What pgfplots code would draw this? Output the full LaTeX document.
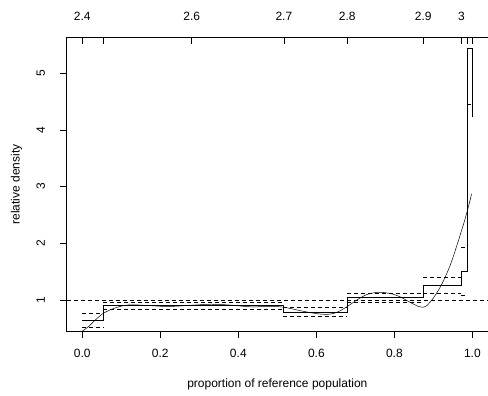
\documentclass[border=0pt]{standalone}
\usepackage{pgfplots}
\pgfplotsset{compat=1.18}
\usepackage{fontspec}
\setmainfont{Liberation Sans}
\begin{document}
\begin{tikzpicture}[x=1pt,y=1pt]
\path[use as bounding box] (0,0) rectangle (488,396);
\tikzset{cidash/.style={black, line width=0.55pt, dash pattern=on 4pt off 3pt}}
\begin{axis}[
  at={(66.7pt,65pt)}, anchor=south west,
  scale only axis, width=421.3pt, height=293.3pt,
  xmin=-0.04, xmax=1.04, ymin=0.453, ymax=5.626,
  axis line style={draw=none},
  clip mode=individual,
  font=\fontsize{12}{14}\selectfont,
  /pgf/number format/assume math mode=true,
  xtick={0,0.2,0.4,0.6,0.8,1.0},
  xticklabels={0.0,0.2,0.4,0.6,0.8,1.0},
  ytick={1,2,3,4,5},
  xtick pos=bottom, ytick pos=left,
  tick align=outside, major tick length=7pt,
  tick style={black, line width=0.55pt},
  xticklabel style={anchor=base, yshift=-20pt},
  yticklabel style={xshift=-14.7pt, rotate=90, anchor=base},
  xlabel={proportion of reference population},
  ylabel={relative density},
  xlabel style={at={(axis description cs:0.5,-0.1943)}, anchor=base},
  ylabel style={at={(axis description cs:-0.112,0.5)}, anchor=base},
]
% reference line
\addplot[cidash] coordinates {(-0.04,1) (1.04,1)};
% relative density histogram (step)
\addplot[const plot, black, line width=0.6pt] coordinates {
(0,0.645) (0.054,0.90) (0.515,0.79) (0.679,1.04) (0.874,1.26) (0.972,1.505) (0.986,5.44) (1.0,4.22)};
% confidence bands per bin
\addplot[cidash] coordinates {(0,0.77) (0.054,0.77)};
\addplot[cidash] coordinates {(0,0.515) (0.054,0.515)};
\addplot[cidash] coordinates {(0.054,0.958) (0.515,0.958)};
\addplot[cidash] coordinates {(0.054,0.828) (0.515,0.828)};
\addplot[cidash] coordinates {(0.515,0.875) (0.679,0.875)};
\addplot[cidash] coordinates {(0.515,0.71) (0.679,0.71)};
\addplot[cidash] coordinates {(0.679,1.125) (0.874,1.125)};
\addplot[cidash] coordinates {(0.679,0.962) (0.874,0.962)};
\addplot[cidash] coordinates {(0.874,1.405) (0.972,1.405)};
\addplot[cidash] coordinates {(0.874,1.11) (0.972,1.11)};
\addplot[cidash] coordinates {(0.972,1.93) (0.986,1.93)};
\addplot[cidash] coordinates {(0.972,1.076) (0.986,1.076)};
\addplot[cidash] coordinates {(0.986,4.46) (1.0,4.46)};
% smoothed relative density
\addplot[black, line width=0.5pt, smooth, tension=0.5] coordinates {
(0.000,0.45) (0.010,0.50) (0.020,0.555) (0.033,0.645) (0.054,0.765) (0.079,0.846)
(0.105,0.90) (0.13,0.915) (0.175,0.90) (0.22,0.885) (0.275,0.905) (0.33,0.925)
(0.38,0.91) (0.43,0.88) (0.48,0.885) (0.513,0.876) (0.54,0.84) (0.567,0.80)
(0.600,0.76) (0.627,0.746) (0.645,0.765) (0.661,0.81) (0.679,0.884) (0.704,1.0)
(0.729,1.095) (0.755,1.134) (0.775,1.13) (0.795,1.105) (0.815,1.055) (0.84,0.96)
(0.862,0.885) (0.872,0.872) (0.883,0.90) (0.90,1.035) (0.917,1.22) (0.93,1.40)
(0.943,1.61) (0.955,1.85) (0.968,2.13) (0.98,2.40) (0.99,2.65) (0.998,2.87)};
% frame: left, bottom, top
\draw[black, line width=0.6pt] (rel axis cs:1,1) -- (rel axis cs:0,1) -- (rel axis cs:0,0) -- (rel axis cs:1,0);
\end{axis}
\begin{axis}[
  at={(66.7pt,65pt)}, anchor=south west,
  scale only axis, width=421.3pt, height=293.3pt,
  xmin=-0.04, xmax=1.04, ymin=0.453, ymax=5.626,
  axis line style={draw=none},
  hide y axis,
  font=\fontsize{12}{14}\selectfont,
  xtick={0,0.054,0.2805,0.5167,0.679,0.874,0.972,0.986,1.0},
  xticklabels={2.4,,2.6,2.7,2.8,2.9,3,,},
  xtick pos=top, xticklabel pos=top,
  tick align=inside, major tick length=6pt,
  tick style={black, line width=0.55pt},
  xticklabel style={anchor=base, yshift=17pt},
]
\addplot[draw=none] coordinates {(0,1) (1,1)};
\end{axis}
\end{tikzpicture}
\end{document}
